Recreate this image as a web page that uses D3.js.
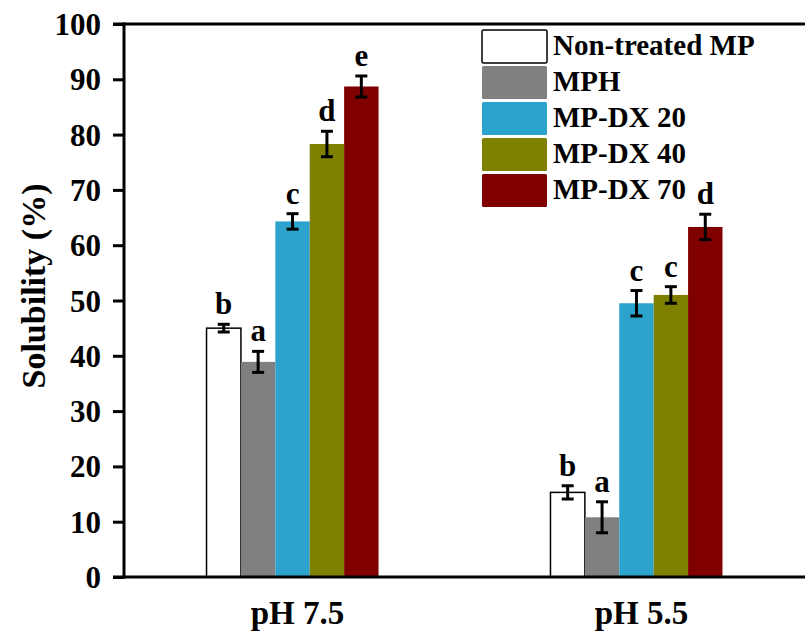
<!DOCTYPE html>
<html>
<head>
<meta charset="utf-8">
<script src="https://cdn.jsdelivr.net/npm/d3@7"></script>
<style>
  body { margin: 0; background: #fff; }
  svg text { font-family: "Liberation Serif", "DejaVu Serif", serif !important; font-weight: bold; fill: #000; }
</style>
</head>
<body>
<div id="graph"></div>
<script>
/*
    Solubility bar chart, two pH groups
*/
var groups = ["pH 7.5", "pH 5.5"]
var series = ["Non-treated MP", "MPH", "MP-DX 20", "MP-DX 40", "MP-DX 70"]
var colors = ["#ffffff", "#808080", "#2ca3cd", "#808000", "#800000"]

// values per group, same order as series
var valuesPh75 = [45.0, 38.9, 64.3, 78.3, 88.7]
var valuesPh55 = [15.3, 10.8, 49.5, 51.0, 63.3]
var errorsPh75 = [0.7, 1.9, 1.4, 2.3, 1.9]
var errorsPh55 = [1.2, 2.8, 2.3, 1.5, 2.3]
var lettersPh75 = ["b", "a", "c", "d", "e"]
var lettersPh55 = ["b", "a", "c", "c", "d"]

var yTicks = [0, 10, 20, 30, 40, 50, 60, 70, 80, 90, 100]

var data = []
groups.forEach(function (g, gi) {
    var vals = gi === 0 ? valuesPh75 : valuesPh55
    var errs = gi === 0 ? errorsPh75 : errorsPh55
    var lets = gi === 0 ? lettersPh75 : lettersPh55
    series.forEach(function (s, si) {
        data.push({ group: g, series: s, value: vals[si], err: errs[si], letter: lets[si], color: colors[si] })
    })
})

var W = 805, H = 637
var margin = { top: 24, right: 0, bottom: 60, left: 124 }
var FONT = "'Liberation Serif', 'DejaVu Serif', serif"

var svg = d3.select("#graph").append("svg")
    .attr("width", W)
    .attr("height", H)
    .attr("font-family", FONT)

var x = d3.scalePoint()
    .domain(groups)
    .range([margin.left, W])
    .padding(0.49)

var xSub = d3.scaleBand()
    .domain(series)
    .range([-86, 86])

var y = d3.scaleLinear()
    .domain([0, 100])
    .range([H - margin.bottom, margin.top])

// bars
svg.selectAll("rect.bar")
    .data(data)
    .enter()
    .append("rect")
    .attr("class", "bar")
    .attr("x", function (d) { return x(d.group) + xSub(d.series) })
    .attr("y", function (d) { return y(d.value) })
    .attr("width", xSub.bandwidth())
    .attr("height", function (d) { return y(0) - y(d.value) })
    .attr("fill", function (d) { return d.color })
    .attr("stroke", function (d) { return d.color === "#ffffff" ? "#000" : "none" })
    .attr("stroke-width", 1.5)

// error bars
var eb = svg.selectAll("g.err")
    .data(data)
    .enter()
    .append("g")
    .attr("class", "err")
    .attr("stroke", "#000")
    .attr("stroke-width", 3)

eb.append("line")
    .attr("x1", function (d) { return x(d.group) + xSub(d.series) + xSub.bandwidth() / 2 })
    .attr("x2", function (d) { return x(d.group) + xSub(d.series) + xSub.bandwidth() / 2 })
    .attr("y1", function (d) { return y(d.value - d.err) })
    .attr("y2", function (d) { return y(d.value + d.err) })

eb.each(function (d) {
    var cx = x(d.group) + xSub(d.series) + xSub.bandwidth() / 2
    var g = d3.select(this)
    ;[d.value - d.err, d.value + d.err].forEach(function (v) {
        g.append("line")
            .attr("x1", cx - 6).attr("x2", cx + 6)
            .attr("y1", y(v)).attr("y2", y(v))
    })
})

// significance letters
svg.selectAll("text.letter")
    .data(data)
    .enter()
    .append("text")
    .attr("class", "letter")
    .attr("x", function (d) { return x(d.group) + xSub(d.series) + xSub.bandwidth() / 2 })
    .attr("y", function (d) { return y(d.value + d.err) - 10 })
    .attr("text-anchor", "middle")
    .style("font-size", "31px")
    .style("font-family", FONT)
    .text(function (d) { return d.letter })

// y axis
var yAxis = svg.append("g")
    .attr("transform", "translate(" + margin.left + ",0)")
    .call(d3.axisLeft(y).tickValues(yTicks).tickSize(11).tickPadding(12))
yAxis.attr("font-family", FONT)
yAxis.select(".domain").remove()
yAxis.selectAll(".tick line").attr("stroke", "#000").attr("stroke-width", 3)
yAxis.selectAll(".tick text")
    .style("font-size", "31px")
    .style("font-family", FONT)
    .attr("dy", "0.34em")

// frame lines
svg.append("line")
    .attr("x1", margin.left).attr("x2", margin.left)
    .attr("y1", y(100) - 1.5).attr("y2", y(0) + 1.5)
    .attr("stroke", "#000").attr("stroke-width", 3)
svg.append("line")
    .attr("x1", margin.left - 11).attr("x2", W)
    .attr("y1", y(0)).attr("y2", y(0))
    .attr("stroke", "#000").attr("stroke-width", 3)
svg.append("line")
    .attr("x1", margin.left - 11).attr("x2", W)
    .attr("y1", y(100)).attr("y2", y(100))
    .attr("stroke", "#000").attr("stroke-width", 3)

// x axis labels
svg.selectAll("text.xlab")
    .data(groups)
    .enter()
    .append("text")
    .attr("class", "xlab")
    .attr("x", function (d) { return x(d) + 5 })
    .attr("y", 624)
    .attr("text-anchor", "middle")
    .style("font-size", "33px")
    .style("font-family", FONT)
    .text(function (d) { return d })

// y axis title
svg.append("text")
    .attr("transform", "translate(45,286) rotate(-90)")
    .attr("text-anchor", "middle")
    .style("font-size", "34px")
    .style("font-family", FONT)
    .text("Solubility (%)")

// legend
var legend = svg.append("g")
    .attr("transform", "translate(482,30)")

var items = legend.selectAll("g.item")
    .data(series)
    .enter()
    .append("g")
    .attr("class", "item")
    .attr("transform", function (d, i) { return "translate(0," + (i * 36) + ")" })

items.append("rect")
    .attr("width", 65)
    .attr("height", 33)
    .attr("rx", 1.5)
    .attr("fill", function (d, i) { return colors[i] })
    .attr("stroke", function (d, i) { return i === 0 ? "#000" : "none" })
    .attr("stroke-width", 1.5)

items.append("text")
    .attr("x", 71)
    .attr("y", 25)
    .style("font-size", "29px")
    .style("font-family", FONT)
    .text(function (d) { return d })
</script>
</body>
</html>
